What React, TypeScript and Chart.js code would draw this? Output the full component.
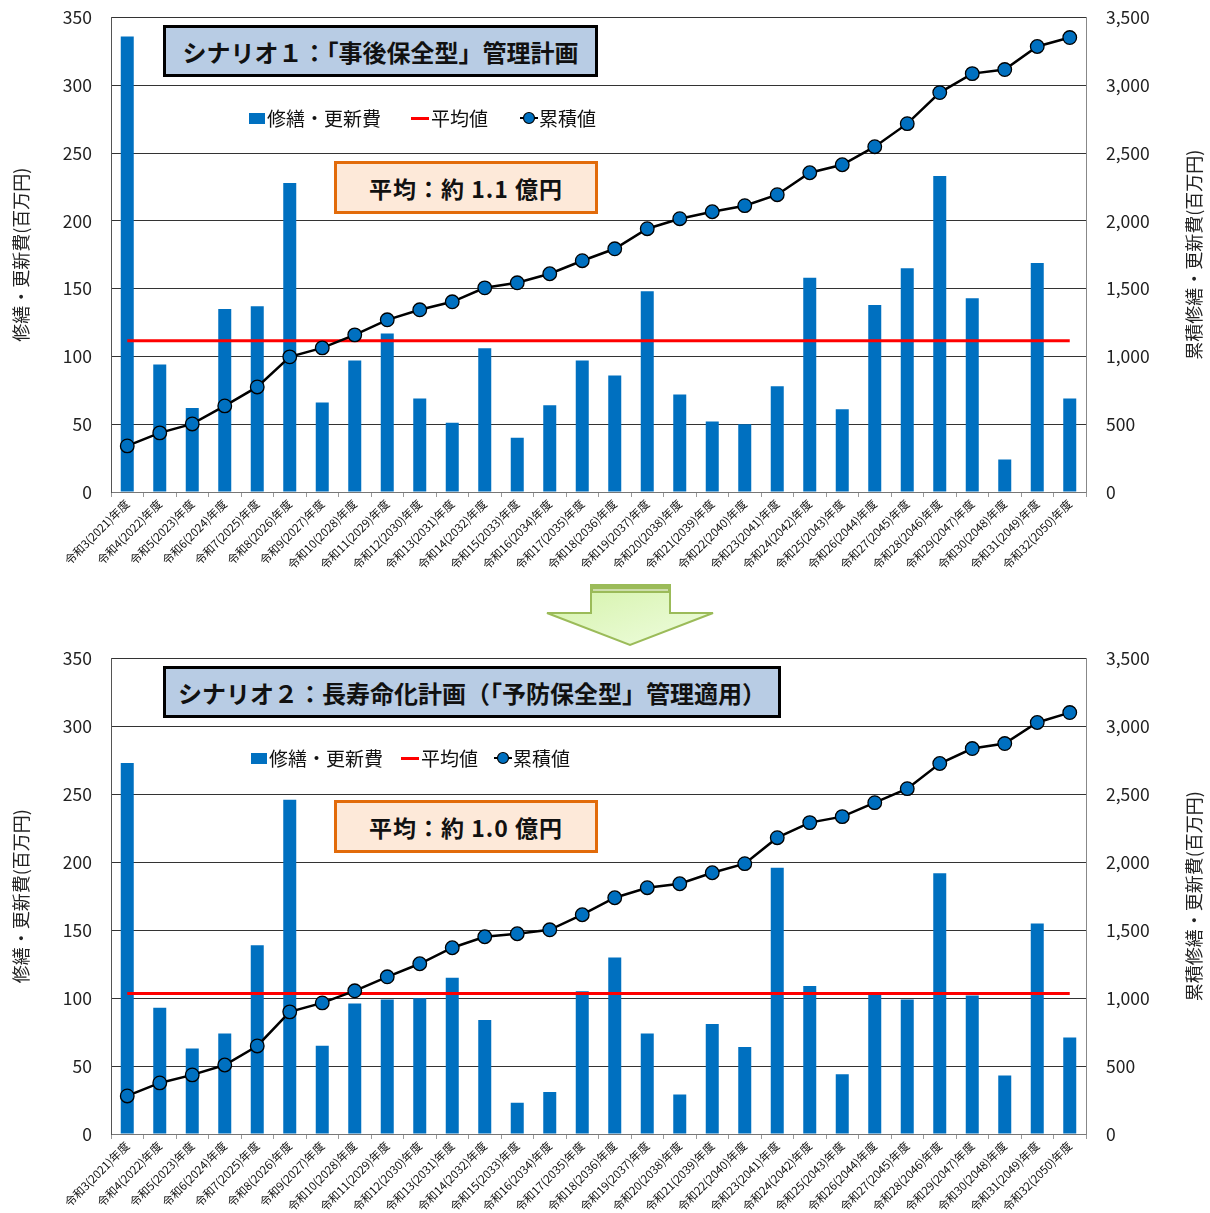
import React, { useEffect, useRef } from 'react';
import { Chart, registerables } from 'chart.js';
Chart.register(...registerables);

const categories = [
  '令和3(2021)年度', '令和4(2022)年度', '令和5(2023)年度', '令和6(2024)年度', '令和7(2025)年度',
  '令和8(2026)年度', '令和9(2027)年度', '令和10(2028)年度', '令和11(2029)年度', '令和12(2030)年度',
  '令和13(2031)年度', '令和14(2032)年度', '令和15(2033)年度', '令和16(2034)年度', '令和17(2035)年度',
  '令和18(2036)年度', '令和19(2037)年度', '令和20(2038)年度', '令和21(2039)年度', '令和22(2040)年度',
  '令和23(2041)年度', '令和24(2042)年度', '令和25(2043)年度', '令和26(2044)年度', '令和27(2045)年度',
  '令和28(2046)年度', '令和29(2047)年度', '令和30(2048)年度', '令和31(2049)年度', '令和32(2050)年度',
];

const costs1 = [336, 94, 62, 135, 137, 228, 66, 97, 117, 69, 51, 106, 40, 64, 97, 86, 148, 72, 52, 50, 78, 158, 61, 138, 165, 233, 143, 24, 169, 69];
const cumulative1 = [340, 436, 502, 635, 775, 997, 1063, 1159, 1270, 1344, 1403, 1506, 1543, 1610, 1706, 1794, 1942, 2016, 2067, 2112, 2193, 2355, 2414, 2547, 2717, 2946, 3086, 3116, 3286, 3352];
const average1 = 111.5;

const costs2 = [273, 93, 63, 74, 139, 246, 65, 96, 99, 100, 115, 84, 23, 31, 105, 130, 74, 29, 81, 64, 196, 109, 44, 103, 99, 192, 102, 43, 155, 71];
const cumulative2 = [280, 376, 435, 508, 648, 899, 965, 1054, 1157, 1253, 1371, 1452, 1474, 1503, 1614, 1739, 1813, 1842, 1923, 1990, 2181, 2292, 2336, 2439, 2542, 2727, 2837, 2874, 3029, 3102];
const average2 = 103.5;

const leftTicksMax = 350;
const rightTicksMax = 3500;

const legendLabels = ['修繕・更新費', '平均値', '累積値'];
const leftTitle = '修繕・更新費(百万円)';
const rightTitle = '累積修繕・更新費(百万円)';

const FONT = '"Noto Sans CJK JP", "Noto Sans", sans-serif';

type Props = {
  costs: number[];
  cumulative: number[];
  average: number;
  height: number;
  xHeight: number;
};

function ScenarioChart({ costs, cumulative, average, height, xHeight }: Props) {
  const ref = useRef<HTMLCanvasElement>(null);
  useEffect(() => {
    if (!ref.current) return;
    const titlesPlugin = {
      id: 'axisTitlesCustom',
      afterDraw(chart: any) {
        const { ctx, chartArea } = chart;
        const cy = (chartArea.top + chartArea.bottom) / 2;
        ctx.save();
        ctx.font = `18px ${FONT}`;
        ctx.fillStyle = '#222';
        ctx.textAlign = 'center';
        ctx.textBaseline = 'middle';
        ctx.save();
        ctx.translate(21, cy);
        ctx.rotate(-Math.PI / 2);
        ctx.fillText(leftTitle, 0, 0);
        ctx.restore();
        ctx.save();
        ctx.translate(1194, cy);
        ctx.rotate(-Math.PI / 2);
        ctx.fillText(rightTitle, 0, 0);
        ctx.restore();
        ctx.restore();
      },
    };
    const chart = new Chart(ref.current, {
      type: 'bar',
      data: {
        labels: categories,
        datasets: [
          {
            type: 'line',
            label: legendLabels[2],
            data: cumulative,
            yAxisID: 'y2',
            borderColor: '#000',
            borderWidth: 2.5,
            pointRadius: 6.8,
            pointBackgroundColor: '#0070c0',
            pointBorderColor: '#000',
            pointBorderWidth: 1.3,
            tension: 0,
            order: 0,
          } as any,
          {
            type: 'line',
            label: legendLabels[1],
            data: categories.map(() => average),
            yAxisID: 'y',
            borderColor: '#ff0000',
            borderWidth: 3,
            pointRadius: 0,
            order: 1,
          } as any,
          {
            type: 'bar',
            label: legendLabels[0],
            data: costs,
            yAxisID: 'y',
            backgroundColor: '#0070c0',
            barPercentage: 0.4,
            categoryPercentage: 1,
            order: 2,
          },
        ],
      },
      options: {
        animation: false,
        responsive: false,
        layout: { padding: 0 },
        plugins: { legend: { display: false }, tooltip: { enabled: false } },
        scales: {
          x: {
            afterFit: (s: any) => { s.height = xHeight; },
            grid: { drawOnChartArea: false, drawTicks: true, tickLength: 5, color: '#999' },
            border: { color: '#777' },
            ticks: {
              autoSkip: false,
              maxRotation: 45,
              minRotation: 45,
              padding: 0,
              color: '#111',
              font: { family: FONT, size: 11.5 },
            },
          },
          y: {
            position: 'left',
            min: 0,
            max: leftTicksMax,
            afterFit: (s: any) => { s.width = 111; },
            grid: { color: '#333', drawTicks: false, lineWidth: 1 },
            border: { color: '#555' },
            ticks: { stepSize: 50, padding: 19, color: '#222', font: { family: FONT, size: 17.5 } },
          },
          y2: {
            position: 'right',
            min: 0,
            max: rightTicksMax,
            afterFit: (s: any) => { s.width = 124; },
            grid: { drawOnChartArea: false, drawTicks: false },
            border: { color: '#888' },
            ticks: { stepSize: 500, padding: 20, color: '#222', font: { family: FONT, size: 17.5 } },
          },
        },
      },
      plugins: [titlesPlugin],
    });
    return () => chart.destroy();
  }, [costs, cumulative, average, height, xHeight]);
  return <canvas ref={ref} width={1210} height={height} style={{ display: 'block' }} />;
}

function Legend({ left, top, gaps }: { left: number; top: number; gaps: number[] }) {
  const text: React.CSSProperties = { fontFamily: FONT, fontSize: 19, color: '#111', lineHeight: '22px' };
  return (
    <div style={{ position: 'absolute', left, top, display: 'flex', alignItems: 'center' }}>
      <div style={{ width: 16, height: 11, background: '#0070c0', marginRight: 2 }} />
      <span style={text}>{legendLabels[0]}</span>
      <div style={{ width: 18, height: 3, background: '#ff0000', marginLeft: gaps[0], marginRight: 2 }} />
      <span style={text}>{legendLabels[1]}</span>
      <svg width={18} height={14} style={{ marginLeft: gaps[1], marginRight: 1 }}>
        <line x1={0} y1={7} x2={18} y2={7} stroke="#000" strokeWidth={2} />
        <circle cx={9} cy={7} r={5.5} fill="#0070c0" stroke="#000" strokeWidth={1.2} />
      </svg>
      <span style={text}>{legendLabels[2]}</span>
    </div>
  );
}

function Box({ left, top, width, height, bg, border, size, spacing, children }: any) {
  return (
    <div
      style={{
        position: 'absolute', left, top, width, height, boxSizing: 'border-box',
        background: bg, border: `3px solid ${border}`, display: 'flex', alignItems: 'center',
        justifyContent: 'center', fontFamily: FONT, fontWeight: 700, fontSize: size, color: '#111',
        whiteSpace: 'nowrap', letterSpacing: spacing || 0,
      }}
    >
      {children}
    </div>
  );
}

function Arrow() {
  return (
    <svg width={180} height={72} style={{ position: 'absolute', left: 540, top: 580 }}>
      <defs>
        <linearGradient id="ag" x1="0" y1="0" x2="1" y2="1">
          <stop offset="0" stopColor="#d4f2a8" />
          <stop offset="1" stopColor="#effde0" />
        </linearGradient>
      </defs>
      <polygon points="51,5 130,5 130,33 173,33 90,65 7,33 51,33" fill="url(#ag)" stroke="#9bbb59" strokeWidth={2} />
      <rect x={51} y={5} width={79} height={8} fill="#9bbb59" />
      <line x1={53} y1={10} x2={128} y2={10} stroke="#fff" strokeWidth={1.2} />
    </svg>
  );
}

export default function App() {
  return (
    <div style={{ position: 'absolute', left: 0, top: 0, width: 1210, height: 1213, background: '#fff', overflow: 'hidden' }}>
      <div style={{ position: 'absolute', left: 0, top: -13 }}>
        <ScenarioChart costs={costs1} cumulative={cumulative1} average={average1} height={593} xHeight={88} />
      </div>
      <div style={{ position: 'absolute', left: 0, top: 628 }}>
        <ScenarioChart costs={costs2} cumulative={cumulative2} average={average2} height={585} xHeight={79} />
      </div>
      <Arrow />
      <Box left={163} top={25} width={435} height={52} bg="#b8cce4" border="#000" size={24}>シナリオ１：「事後保全型」管理計画</Box>
      <Box left={334} top={161} width={264} height={53} bg="#fde9d9" border="#e26b0a" size={23} spacing={1}>平均：約 1.1 億円</Box>
      <Legend left={249} top={107} gaps={[30, 32]} />
      <Box left={163} top={666} width={618} height={52} bg="#b8cce4" border="#000" size={24}>シナリオ２：長寿命化計画（「予防保全型」管理適用）</Box>
      <Box left={334} top={800} width={264} height={53} bg="#fde9d9" border="#e26b0a" size={23} spacing={1}>平均：約 1.0 億円</Box>
      <Legend left={251} top={747} gaps={[18, 16]} />
    </div>
  );
}
